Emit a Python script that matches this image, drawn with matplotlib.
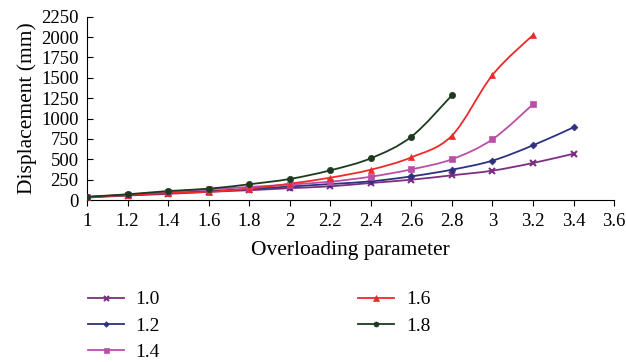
import numpy as np
import matplotlib
matplotlib.use("Agg")
import matplotlib.pyplot as plt
from matplotlib.path import Path
from matplotlib.patches import PathPatch

plt.rcParams['font.family'] = ['Liberation Serif', 'DejaVu Serif']

# overloading parameter values per series
x_10 = [1.0, 1.2, 1.4, 1.6, 1.8, 2.0, 2.2, 2.4, 2.6, 2.8, 3.0, 3.2, 3.4]
x_12 = [1.0, 1.2, 1.4, 1.6, 1.8, 2.0, 2.2, 2.4, 2.6, 2.8, 3.0, 3.2, 3.4]
x_14 = [1.0, 1.2, 1.4, 1.6, 1.8, 2.0, 2.2, 2.4, 2.6, 2.8, 3.0, 3.2]
x_16 = [1.0, 1.2, 1.4, 1.6, 1.8, 2.0, 2.2, 2.4, 2.6, 2.8, 3.0, 3.2]
x_18 = [1.0, 1.2, 1.4, 1.6, 1.8, 2.0, 2.2, 2.4, 2.6, 2.8]

# displacement (mm)
y_10 = [30, 55, 75, 100, 120, 145, 168, 209, 249, 303, 360, 454, 568]
y_12 = [35, 60, 85, 110, 135, 165, 196, 229, 290, 372, 483, 671, 892]
y_14 = [35, 65, 100, 130, 160, 190, 225, 286, 376, 500, 745, 1175]
y_16 = [38, 61, 85, 100, 139, 200, 274, 372, 524, 790, 1534, 2025]
y_18 = [40, 70, 110, 139, 193, 258, 364, 512, 777, 1285]

labels = ["1.0", "1.2", "1.4", "1.6", "1.8"]
colors = ["#7b2f80", "#2e3180", "#bb4fa8", "#ee2a2a", "#1d3a20"]
markers = ["x", "D", "s", "^", "o"]
msizes = [4.5, 3.5, 4.5, 5, 4.5]


def smooth_path(xs, ys, t=1/6):
    # Catmull-Rom style bezier through the data points
    xs = np.asarray(xs, float)
    ys = np.asarray(ys, float)
    pts = np.column_stack([xs, ys])
    verts = [pts[0]]
    codes = [Path.MOVETO]
    n = len(pts)
    for i in range(n - 1):
        p0 = pts[i - 1] if i > 0 else pts[i]
        p1 = pts[i]
        p2 = pts[i + 1]
        p3 = pts[i + 2] if i + 2 < n else pts[i + 1]
        c1 = p1 + (p2 - p0) * t
        c2 = p2 - (p3 - p1) * t
        verts += [c1, c2, p2]
        codes += [Path.CURVE4] * 3
    return Path(verts, codes)


fig = plt.figure(figsize=(6.26, 3.62), dpi=100)
ax = fig.add_axes([0.139, 0.4475, 0.842, 0.5065])

series = [(x_10, y_10), (x_12, y_12), (x_14, y_14), (x_16, y_16), (x_18, y_18)]
for (xs, ys), lab, c, m, ms in zip(series, labels, colors, markers, msizes):
    ax.add_patch(PathPatch(smooth_path(xs, ys), facecolor="none",
                           edgecolor=c, lw=1.3, zorder=2))
    mew = 1.5 if m == "x" else 0.5
    ax.plot(xs, ys, ls="none", marker=m, ms=ms, color=c, mew=mew, zorder=3)
    ax.plot([], [], color=c, lw=1.3, marker=m, ms=ms * 0.8, mew=mew, label=lab)

ax.set_xlim(1, 3.6)
ax.set_ylim(0, 2250)
ax.set_xticks(np.arange(1.0, 3.61, 0.2))
ax.set_xticklabels(["1", "1.2", "1.4", "1.6", "1.8", "2", "2.2", "2.4",
                    "2.6", "2.8", "3", "3.2", "3.4", "3.6"])
ax.set_yticks(np.arange(0, 2251, 250))
ax.spines['top'].set_visible(False)
ax.spines['right'].set_visible(False)
ax.tick_params(axis='x', direction='out', length=4, labelsize=13.5, pad=5)
ax.tick_params(axis='y', direction='in', length=4, labelsize=13.5, pad=6)
ax.set_xlabel("Overloading parameter", fontsize=15.5, labelpad=8)
ax.set_ylabel("Displacement (mm)", fontsize=15.5, labelpad=3)

fig.legend(loc="upper left", bbox_to_anchor=(0.128, 0.218), ncol=2,
           frameon=False, fontsize=14, handlelength=1.85, handletextpad=0.6,
           columnspacing=10.2, labelspacing=0.45, borderaxespad=0)

fig.savefig("out.png", dpi=100)
